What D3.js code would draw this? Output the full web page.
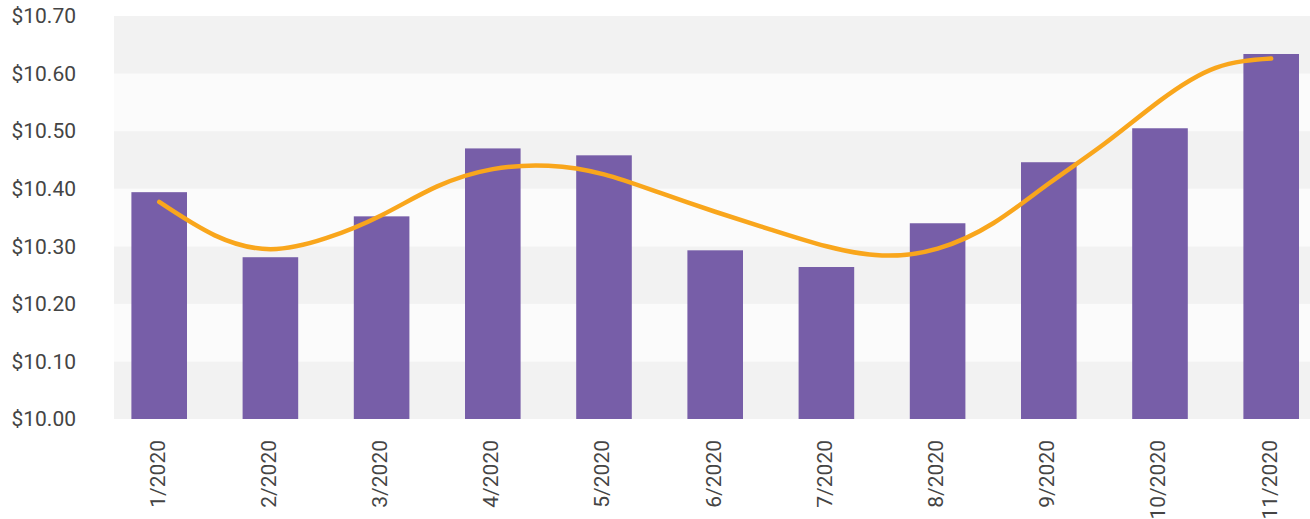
<!DOCTYPE html>
<html>
<head>
<meta charset="utf-8">
<script src="https://cdn.jsdelivr.net/npm/d3@7"></script>
<style>
  html, body { margin: 0; padding: 0; background: #fff; }
  svg { display: block; }
  text { font-family: Roboto, "Noto Sans", sans-serif; fill: #444; }
</style>
</head>
<body>
<svg id="chart" width="1310" height="519"></svg>
<script>
const categories = ["1/2020","2/2020","3/2020","4/2020","5/2020","6/2020","7/2020","8/2020","9/2020","10/2020","11/2020"];
const barValues = [10.394, 10.281, 10.352, 10.470, 10.458, 10.293, 10.264, 10.340, 10.446, 10.505, 10.634];
// trend line read at every half category step (position in category index units)
const trendPositions = [0, 0.5, 1, 1.5, 2, 2.5, 3, 3.5, 4, 4.5, 5, 5.5, 6, 6.5, 7, 7.5, 8, 8.5, 9, 9.5, 10];
const trendValues = [10.377, 10.319, 10.295, 10.314, 10.354, 10.404, 10.434, 10.440, 10.425, 10.393, 10.360,
                     10.329, 10.300, 10.284, 10.296, 10.340, 10.409, 10.478, 10.553, 10.610, 10.626];
const yTicks = [10.0, 10.1, 10.2, 10.3, 10.4, 10.5, 10.6, 10.7];

const svg = d3.select("#chart");
const plotLeft = 114, plotRight = 1310, plotTop = 16, plotBottom = 419;

const x = d3.scaleBand().domain(categories).range([103.6, 1326.8]).padding(0);
const y = d3.scaleLinear().domain([10.0, 10.7]).range([plotBottom, plotTop]);
const center = c => x(c) + x.bandwidth() / 2;
const xPos = d3.scaleLinear().domain([0, categories.length - 1])
  .range([center(categories[0]), center(categories[categories.length - 1])]);

// alternating background bands
const bands = yTicks.slice(0, -1).map((v, i) => ({ lo: v, hi: yTicks[i + 1], i }));
svg.append("g").selectAll("rect").data(bands).enter().append("rect")
  .attr("x", plotLeft)
  .attr("width", plotRight - plotLeft)
  .attr("y", d => y(d.hi))
  .attr("height", d => y(d.lo) - y(d.hi))
  .attr("fill", d => (d.i % 2 === 0) ? "#f2f2f2" : "#fbfbfb");

// bars
const bw = x.bandwidth() * 0.5;
svg.append("g").selectAll("rect").data(categories).enter().append("rect")
  .attr("x", d => center(d) - bw / 2)
  .attr("width", bw)
  .attr("y", (d, i) => y(barValues[i]))
  .attr("height", (d, i) => y(10.0) - y(barValues[i]))
  .attr("fill", "#775ea8");

// trend line
const line = d3.line()
  .x((d, i) => xPos(trendPositions[i]))
  .y(d => y(d))
  .curve(d3.curveNatural);
svg.append("path")
  .datum(trendValues)
  .attr("d", line)
  .attr("fill", "none")
  .attr("stroke", "#f9a61c")
  .attr("stroke-width", 4.5)
  .attr("stroke-linecap", "round");

// y axis labels
const yAxis = d3.axisLeft(y).tickValues(yTicks).tickSize(0).tickPadding(0)
  .tickFormat(d => "$" + d.toFixed(2));
const gy = svg.append("g").attr("transform", "translate(76,0)").call(yAxis);
gy.select(".domain").remove();
gy.selectAll("text").style("font-size", "21px").style("font-family", "Roboto, sans-serif").attr("fill", "#444");

// x axis labels
const xAxis = d3.axisBottom(x).tickSize(0).tickPadding(0);
const gx = svg.append("g").attr("transform", `translate(0,${plotBottom})`).call(xAxis);
gx.select(".domain").remove();
gx.selectAll("text")
  .style("font-size", "21px").style("font-family", "Roboto, sans-serif").attr("fill", "#444")
  .attr("text-anchor", "end")
  .attr("dy", "0.35em")
  .attr("transform", "translate(-2,21) rotate(-90)")
  .attr("x", 0).attr("y", 0);
</script>
</body>
</html>
